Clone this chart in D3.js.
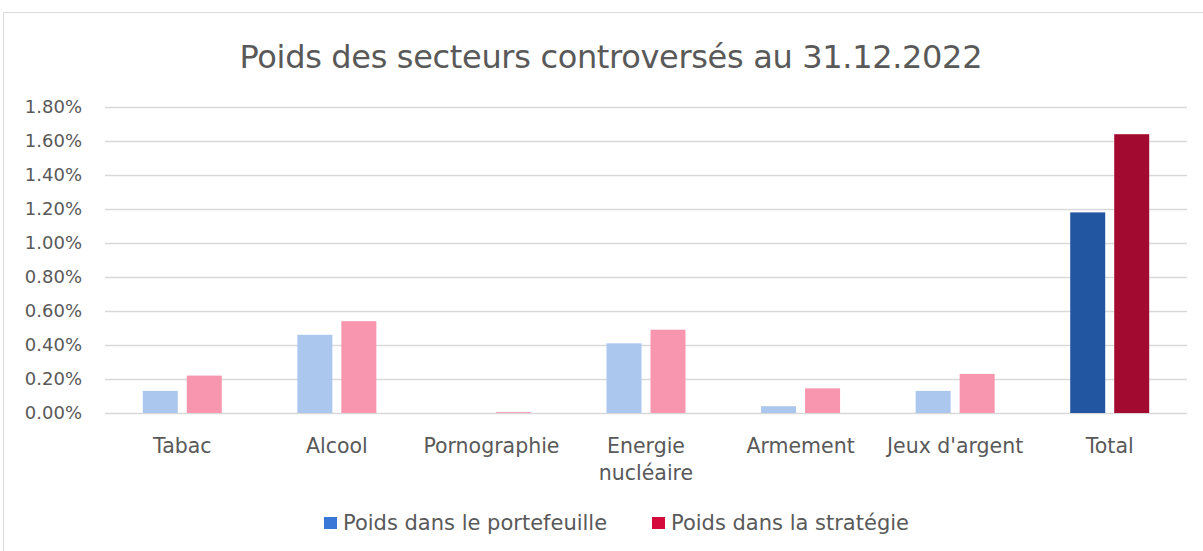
<!DOCTYPE html>
<html>
<head>
<meta charset="utf-8">
<script src="https://cdnjs.cloudflare.com/ajax/libs/d3/7.8.5/d3.min.js"></script>
<style>
  body { margin: 0; background: #fff; }
  text { font-family: "DejaVu Sans", sans-serif; fill: #595959; }
</style>
</head>
<body>
<script>
// data
const categories = ['Tabac', 'Alcool', 'Pornographie', 'Energie nucléaire', 'Armement', "Jeux d'argent", 'Total']
const portefeuille = [0.0013, 0.0046, 0, 0.0041, 0.0004, 0.0013, 0.0118]
const strategie = [0.0022, 0.0054, 0.00005, 0.0049, 0.00145, 0.0023, 0.0164]
const yTicks = [0, 0.002, 0.004, 0.006, 0.008, 0.010, 0.012, 0.014, 0.016, 0.018]
const seriesNames = ['Poids dans le portefeuille', 'Poids dans la stratégie']

const w = 1203
const h = 551
const pLeft = 105
const pRight = 1187
const pTop = 107
const pBottom = 413

const colLight = ['#abc7ee', '#f895af']
const colDark = ['#2356a0', '#a20a30']
const colLegend = ['#3a78d8', '#d40a3c']

let svg = d3.select('body')
    .append('svg')
    .attr('width', w)
    .attr('height', h)

// chart frame
svg.append('rect')
    .attr('x', 3.5)
    .attr('y', 12.5)
    .attr('width', w + 10)
    .attr('height', h + 10)
    .attr('fill', 'none')
    .attr('stroke', '#d9d9d9')

// title
svg.append('text')
    .attr('x', 611)
    .attr('y', 68)
    .attr('text-anchor', 'middle')
    .attr('textLength', 743)
    .attr('lengthAdjust', 'spacing')
    .style('font-size', '32px')
    .text('Poids des secteurs controversés au 31.12.2022')

const x = d3.scaleBand()
    .domain(categories)
    .range([pLeft, pRight])

const y = d3.scaleLinear()
    .domain([0, 0.018])
    .range([pBottom, pTop])

// y axis with gridlines
const yAxis = d3.axisLeft(y)
    .tickValues(yTicks)
    .tickFormat(d3.format('.2%'))
    .tickSize(-(pRight - pLeft))
    .tickPadding(23)

const gy = svg.append('g')
    .attr('transform', `translate(${pLeft},0)`)
    .call(yAxis)
gy.select('.domain').remove()
gy.selectAll('line').attr('stroke', '#d9d9d9').attr('stroke-width', 1.3)
gy.selectAll('text').style('font-size', '18px').attr('fill', '#595959')
    .style('font-family', '"DejaVu Sans", sans-serif')

// bars
const bw = 35
const gap = 9
const series = [portefeuille, strategie]
series.forEach((vals, s) => {
    svg.append('g')
        .selectAll('rect')
        .data(vals)
        .enter()
        .append('rect')
        .attr('x', (d, i) => x(categories[i]) + x.bandwidth() / 2 + (s === 0 ? -gap / 2 - bw : gap / 2))
        .attr('y', d => y(d))
        .attr('width', bw)
        .attr('height', d => pBottom - y(d))
        .attr('fill', (d, i) => categories[i] === 'Total' ? colDark[s] : colLight[s])
})

// category labels
const xl = svg.append('g')
    .selectAll('text')
    .data(categories)
    .enter()
    .append('text')
    .attr('x', d => x(d) + x.bandwidth() / 2)
    .attr('y', 453)
    .attr('text-anchor', 'middle')
    .style('font-size', '20.5px')
xl.each(function (d) {
    const parts = d === 'Energie nucléaire' ? ['Energie', 'nucléaire'] : [d]
    d3.select(this).selectAll('tspan')
        .data(parts)
        .enter()
        .append('tspan')
        .attr('x', x(d) + x.bandwidth() / 2)
        .attr('dy', (p, i) => i === 0 ? 0 : 27)
        .text(p => p)
})

// legend
const legX = [324, 652]
seriesNames.forEach((name, i) => {
    svg.append('rect')
        .attr('x', legX[i])
        .attr('y', 517)
        .attr('width', 13)
        .attr('height', 12)
        .attr('fill', colLegend[i])
    svg.append('text')
        .attr('x', legX[i] + 19)
        .attr('y', 530)
        .style('font-size', '21px')
        .text(name)
})
</script>
</body>
</html>
